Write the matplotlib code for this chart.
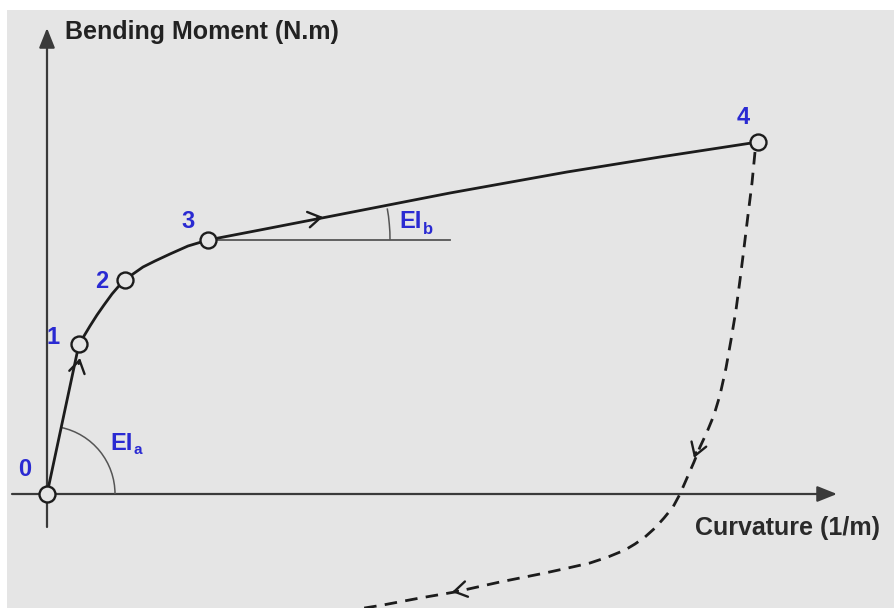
import numpy as np
import matplotlib.pyplot as plt
from matplotlib.patches import Arc

plt.rcParams['font.family'] = ['Liberation Sans', 'DejaVu Sans']

# schematic moment-curvature path (origin at point 0)
key_curv = [0, 32, 78, 161, 711]
key_mom = [0, 150, 214, 254, 352]
key_labels = ['0', '1', '2', '3', '4']

load_curv = [0, 32, 37, 43, 50, 57, 65, 71, 78, 86, 96, 108, 123, 141, 161,
             213, 280, 403, 520, 613, 711]
load_mom = [0, 150, 158, 168, 179, 189, 200, 207, 214, 220, 227, 233, 240, 248, 254,
            264, 277, 301, 322, 337, 352]

unload_curv = [708, 705, 701, 697, 693, 689, 684, 679, 673, 667, 660, 653, 647, 640, 633,
               626, 617, 608, 598, 588, 578, 561, 543, 521, 498, 453, 408, 373, 336, 293]
unload_mom = [342, 311, 279, 246, 214, 184, 154, 126, 99, 79, 62, 47, 32, 16, 0,
              -13, -24, -34, -43, -50, -56, -63, -69, -74, -79, -88, -98, -104, -111, -118]

bg = '#e5e5e5'
blue = '#2a2ad2'
ink = '#1c1c1c'

fig = plt.figure(figsize=(8.94, 6.08), dpi=100, facecolor='white')
ax = fig.add_axes([7 / 894, 0, 887 / 894, 598 / 608])
ax.set_facecolor(bg)
ax.set_xlim(-40, 847)
ax.set_ylim(-114, 484)
for s in ax.spines.values():
    s.set_visible(False)
ax.set_xticks([])
ax.set_yticks([])

# axes with arrow heads
axis_kw = dict(arrowstyle='-|>,head_length=0.6,head_width=0.24', color='#3a3a3a',
               lw=1.6, mutation_scale=20, shrinkA=0, shrinkB=0)
ax.annotate('', xy=(0, 466), xytext=(0, -33), arrowprops=axis_kw, zorder=2)
ax.annotate('', xy=(790, 0), xytext=(-35, 0), arrowprops=axis_kw, zorder=2)
ax.text(18, 462, 'Bending Moment (N.m)', fontsize=18, fontweight='bold', color='#222222',
        va='center', ha='left')
ax.text(648, -34, 'Curvature (1/m)', fontsize=18, fontweight='bold', color='#2a2a2a',
        va='center', ha='left')

# loading and unloading paths
ax.plot(load_curv, load_mom, color=ink, lw=2.0, zorder=3, solid_capstyle='round',
        solid_joinstyle='round')
ax.plot(unload_curv, unload_mom, color=ink, lw=2.0, ls=(0, (4.5, 3)), zorder=3)

# direction chevrons
chev = dict(arrowstyle='->,head_length=0.45,head_width=0.28', color=ink, lw=1.7,
            mutation_scale=20, shrinkA=0, shrinkB=0)
for tip, d in [((33, 136), (32, 150)), ((276, 277), (1, 0.18)),
               ((647, 36), (-0.35, -1)), ((405, -98), (-1, -0.2))]:
    d = np.array(d, float)
    d = d / np.hypot(*d)
    ax.annotate('', xy=tip, xytext=(tip[0] - 6 * d[0], tip[1] - 6 * d[1]),
                arrowprops=chev, zorder=4)

# key points
ax.plot(key_curv, key_mom, ls='none', marker='o', ms=11.5, mfc=bg, mec=ink, mew=1.7, zorder=5)
label_pos = [(-22, 24), (6, 157), (55, 212), (141, 272), (696, 376)]
for (lx, ly), t in zip(label_pos, key_labels):
    ax.text(lx, ly, t, fontsize=17, fontweight='bold', color=blue, ha='center', va='center')

# stiffness angles
ax.add_patch(Arc((0, 0), 136, 136, theta1=0, theta2=78, color='#555555', lw=1.1, zorder=2))
ax.plot([161, 403], [254, 254], color='#555555', lw=1.3, zorder=2)
ax.add_patch(Arc((161, 254), 364, 364, theta1=0, theta2=10, color='#555555', lw=1.1, zorder=2))

ax.text(63, 51, 'EI', fontsize=17, fontweight='bold', color=blue, ha='left', va='center')
ax.text(86, 44, 'a', fontsize=11, fontweight='bold', color=blue, ha='left', va='center')
ax.text(352, 272, 'EI', fontsize=17, fontweight='bold', color=blue, ha='left', va='center')
ax.text(376, 265, 'b', fontsize=12, fontweight='bold', color=blue, ha='left', va='center')

fig.savefig('out.png', dpi=100, facecolor='white')
